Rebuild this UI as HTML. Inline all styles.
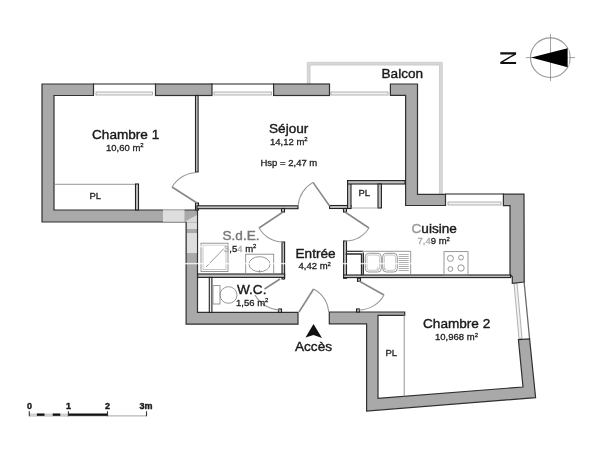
<!DOCTYPE html>
<html><head><meta charset="utf-8">
<style>
html,body{margin:0;padding:0;background:#fff;width:600px;height:450px;overflow:hidden}
svg{display:block;will-change:transform}
text{font-family:"Liberation Sans",sans-serif;fill:#1a1a1a;stroke:#1a1a1a;stroke-width:0.4}
.a{font-size:9.5px;fill:#222;stroke:#222;stroke-width:0.3}
.t{font-size:13.6px}
.w{fill:#a9a9a9;stroke:#303030;stroke-width:1.2;stroke-linejoin:miter}
.p{fill:#c0c0c0;stroke:#222;stroke-width:1.1}
.fr{fill:#f2f2f2;stroke:#a0a0a0;stroke-width:0.8}
.ol{stroke:#6a6a6a;stroke-width:1.3;fill:none}
.lf{stroke:#888;stroke-width:1.6;fill:none}
.arc{stroke:#999;stroke-width:1.1;fill:none}
.fx{stroke:#8c8c8c;stroke-width:0.9;fill:none}
.fx2{stroke:#b0b0b0;stroke-width:0.7;fill:none}
.bal{fill:none;stroke:#d8d8d8;stroke-width:2.6}
.ball{fill:none;stroke:#b8b8b8;stroke-width:0.6}
</style></head>
<body>
<svg width="600" height="450" viewBox="0 0 600 450">

<!-- balcony -->
<path class="bal" d="M308.7,84 V63.7 H440.9 V194"/>
<path class="ball" d="M307.3,84 V62.3 H442.3 V194"/>
<path class="ball" d="M310.1,84 V65.1 H439.5 V194"/>

<!-- window outer lines -->
<line class="ol" x1="93" y1="84" x2="156" y2="84"/>
<line class="ol" x1="211" y1="84" x2="274" y2="84"/>
<line class="ol" x1="445" y1="194" x2="504" y2="194"/>
<line class="ol" x1="524" y1="281" x2="529.6" y2="339"/>
<!-- window frames -->
<rect class="fr" x="96" y="92" width="56.5" height="3"/>
<rect class="fr" x="214" y="92" width="57.5" height="3"/>
<rect class="fr" x="331" y="92" width="57" height="3"/>
<rect class="fr" x="448" y="202" width="53" height="3"/>
<path class="fr" d="M517,283 L522,338.5 L519,338.8 L514,283.3 Z"/>

<!-- walls -->
<path class="w" d="M42,84 H93.5 V95.5 H54 V210 H197.5 V312.4 H298 V324.2 H186.1 V222 H42 Z"/>
<rect class="w" x="155.5" y="84" width="56.5" height="11.5"/>
<rect class="w" x="273.6" y="84" width="55.9" height="11.5"/>
<path class="w" d="M390.4,84 H417.5 V194.3 H445.5 V205.5 H405.6 V95.3 H390.4 Z"/>
<path class="w" d="M503.4,194.2 H524 L524.2,282 L512.3,283.3 V276.8 L510,274.4 V205.6 H503.4 Z"/>
<path class="w" d="M329.3,312 H404.7 V315.3 H378 V398.3 L523,387 L518.4,339.6 L529.6,339 L535.6,397.6 L366.6,411 L366.6,323.8 H329.3 Z"/>

<!-- partitions -->
<rect class="p" x="195.5" y="95.5" width="2.6" height="76.5"/>
<rect class="p" x="195.5" y="203" width="3" height="7"/>
<rect class="p" x="197" y="205.8" width="101" height="2.9"/>
<rect class="p" x="281.5" y="208.5" width="3" height="3.5"/>
<rect class="p" x="329.6" y="205.5" width="21.4" height="3"/>
<rect class="p" x="343.5" y="208.5" width="3" height="3.5"/>
<rect class="p" x="347.6" y="180.6" width="3.4" height="27.9"/>
<rect class="p" x="347.6" y="180.6" width="57.4" height="3.4"/>
<rect class="p" x="378" y="184" width="3.4" height="24"/>
<line x1="351" y1="208" x2="378" y2="208" stroke="#9a9a9a" stroke-width="0.8"/>
<rect class="p" x="282" y="242" width="2.6" height="37"/>
<rect class="p" x="197.7" y="274" width="86.9" height="3.4"/>
<rect class="p" x="209.3" y="277.4" width="2.6" height="35" style="fill:#f0f0f0"/>
<rect class="p" x="278.5" y="309" width="3" height="3.4"/>
<rect class="p" x="343.6" y="241" width="2.9" height="37.3"/>
<rect class="p" x="343.6" y="275" width="167" height="2.6"/>
<rect class="p" x="357.5" y="278.3" width="3" height="3"/>
<rect class="p" x="356.5" y="309" width="3" height="3"/>
<line x1="404.2" y1="315" x2="404.2" y2="396.5" stroke="#8a8a8a" stroke-width="0.9"/>
<!-- ch1 PL -->
<line x1="54" y1="184.3" x2="137" y2="184.3" stroke="#8a8a8a" stroke-width="0.9"/>
<rect class="p" x="135.5" y="184" width="3" height="26"/>

<!-- doors -->
<line class="lf" x1="197" y1="203" x2="172" y2="187"/>
<path class="arc" d="M172,187 A30,30 0 0 1 198,172.5"/>
<line class="lf" x1="329.6" y1="206" x2="313" y2="182.4"/>
<path class="arc" d="M313,182.4 A31,31 0 0 0 298,206"/>
<line class="lf" x1="283" y1="212" x2="259" y2="228"/>
<path class="arc" d="M259,228 A29.5,29.5 0 0 0 283,242"/>
<line class="lf" x1="345" y1="212" x2="369" y2="228"/>
<path class="arc" d="M369,228 A29,29 0 0 1 345,241"/>
<line class="lf" x1="280" y1="279" x2="264.5" y2="289"/>
<path class="arc" d="M255,295 A30,30 0 0 0 280,310"/>
<line class="lf" x1="359" y1="281" x2="384" y2="295"/>
<path class="arc" d="M384,295 A29,29 0 0 1 359,310"/>
<line class="lf" x1="299" y1="312" x2="313.6" y2="289"/>
<path class="arc" d="M313.6,289 A29.5,29.5 0 0 1 328.7,312"/>

<!-- fixtures -->
<rect class="fx" x="201" y="243.2" width="27" height="28.3"/>
<rect class="fx2" x="203" y="245.2" width="23" height="24.3"/>
<line class="fx" x1="206" y1="267" x2="224" y2="248.5"/>
<rect class="fx" x="245.7" y="254.2" width="28" height="19.3"/>
<ellipse class="fx" cx="259.5" cy="264.2" rx="10.5" ry="7.5"/>
<line class="fx" x1="259.5" y1="270" x2="259.5" y2="272.5"/>
<rect class="fx" x="213" y="285.6" width="7" height="18.4"/>
<ellipse class="fx" cx="228.5" cy="295" rx="8.5" ry="8.3"/>
<line x1="346" y1="251.3" x2="363" y2="251.3" stroke="#2a2a2a" stroke-width="1.2"/>
<path d="M345.5,254H361.5V275.3M363.3,252.5V275.3" fill="none" stroke="#2a2a2a" stroke-width="1.3"/>
<path class="fx" d="M362,251.3H410.7V275"/>
<rect class="fx" x="365.3" y="253.3" width="16" height="18.7" rx="3.5"/>
<rect class="fx2" x="367" y="255" width="12.6" height="15.3" rx="2.5"/>
<rect class="fx" x="382.7" y="253.3" width="14.6" height="18.7" rx="3.5"/>
<rect class="fx2" x="384.4" y="255" width="11.2" height="15.3" rx="2.5"/>
<path class="fx2" d="M378,267.5l1.2,1.2l-1.2,1.2l-1.2,-1.2zM384,267.5l1.2,1.2l-1.2,1.2l-1.2,-1.2z"/>
<path d="M398.7,254.5H408.7M398.7,256.5H408.7M398.7,258.5H408.7M398.7,260.5H408.7M398.7,262.5H408.7M398.7,264.5H408.7M398.7,266.5H408.7M398.7,268.5H408.7M398.7,270.5H408.7" stroke="#9a9a9a" stroke-width="0.8"/>
<rect class="fx" x="444" y="251.6" width="24" height="23.4"/>
<circle class="fx" cx="450.4" cy="258.4" r="3"/>
<circle class="fx" cx="461" cy="257.6" r="2.4"/>
<circle class="fx" cx="450.4" cy="269" r="2.4"/>
<circle class="fx" cx="461" cy="268" r="3.2"/>

<!-- watermark -->
<g fill="#fff">
<rect x="163" y="209.5" width="21.5" height="12.5" opacity="0.62"/>
<path d="M184,222 L197,215 V222 Z" opacity="0.55"/>
<rect x="187" y="222.6" width="10" height="6.4" opacity="0.62"/>
<rect x="187" y="233" width="10" height="20" opacity="0.62"/>
<rect x="150" y="262.9" width="262" height="1.4" opacity="0.8"/>
<rect x="200" y="245.5" width="40" height="2" opacity="0.6"/>
</g>

<!-- labels -->
<text class="t" x="92" y="139.2">Chambre 1</text>
<text class="a" x="106" y="150.8">10,60 m<tspan font-size="6" dy="-3.5">2</tspan></text>
<text class="t" x="269" y="132.7">Séjour</text>
<text class="a" x="270" y="144.7">14,12 m<tspan font-size="6" dy="-3.5">2</tspan></text>
<text class="a" x="260.5" y="166.3">Hsp = 2,47 m</text>
<text class="t" x="381.5" y="77.5">Balcon</text>
<text class="a" x="89.5" y="198.8" font-size="9.6">PL</text>
<text class="a" x="358.5" y="196.3" font-size="9.6">PL</text>
<text class="a" x="385.5" y="356.3" font-size="9.6">PL</text>
<text class="t" x="411.5" y="232.5"><tspan style="fill:#999;stroke:#999">C</tspan>uisine</text>
<text class="a" x="417.5" y="244"><tspan style="fill:#aaa;stroke:#aaa">7,4</tspan>9 m<tspan font-size="6" dy="-3.5">2</tspan></text>
<text class="t" x="222.5" y="239.5" style="fill:#777;stroke:#777">S.d.E.</text>
<text class="a" x="224" y="251.5"><tspan style="fill:#aaa;stroke:#aaa">3</tspan>,5<tspan style="fill:#aaa;stroke:#aaa">4</tspan> m<tspan font-size="6" dy="-3.5">2</tspan></text>
<text class="t" x="295.5" y="257.8">Entrée</text>
<text class="a" x="298.5" y="269.2">4,42 m<tspan font-size="6" dy="-3.5">2</tspan></text>
<text class="t" x="237" y="293.8">W.C.</text>
<text class="a" x="236" y="305.5">1,56 m<tspan font-size="6" dy="-3.5">2</tspan></text>
<text class="t" x="423" y="328.4">Chambre 2</text>
<text class="a" x="435" y="340.4">10,968 m<tspan font-size="6" dy="-3.5">2</tspan></text>
<text class="t" x="295" y="350.5">Accès</text>

<!-- access arrow -->
<path d="M313.5,324 L322,338 L313.5,335 L305.5,337.5 Z" fill="#111"/>

<!-- compass -->
<circle cx="550.3" cy="57.7" r="19.8" fill="none" stroke="#9a9a9a" stroke-width="1.1"/>
<line x1="550.5" y1="34" x2="550.5" y2="81" stroke="#8a8a8a" stroke-width="0.8"/>
<line x1="525.8" y1="57.6" x2="575" y2="57.6" stroke="#8a8a8a" stroke-width="0.8"/>
<path d="M531.2,57.5 L567.6,48.3 L567.6,67.2 Z" fill="#000"/>
<line x1="568.6" y1="49" x2="568.6" y2="66" stroke="#fff" stroke-width="0.8"/>
<path d="M500.3,52.2H516.1V54.4H500.3Z M500.3,61.9H516.1V64.1H500.3Z M513.2,54.4H516.1L503.2,61.9H500.3Z" fill="#111"/>

<!-- scale bar -->
<line x1="29.3" y1="415.9" x2="146.6" y2="415.9" stroke="#9c9c9c" stroke-width="0.9"/>
<rect x="29.3" y="413.5" width="39.1" height="2.3" fill="#d2d2d2"/>
<rect x="36.9" y="413.5" width="7.6" height="2.3" fill="#111"/>
<rect x="52.7" y="413.5" width="7.6" height="2.3" fill="#111"/>
<rect x="68.4" y="413.5" width="39" height="2.3" fill="#111"/>
<path d="M29.3,411.2V416.3M68.4,411.2V416.3M107.5,411.2V416.3M146.5,411.2V416.3" stroke="#333" stroke-width="1.1"/>
<g style="font-weight:bold">
<text x="26.9" y="409.2" style="font-size:9px">0</text>
<text x="66" y="409.2" style="font-size:9px">1</text>
<text x="105" y="409.2" style="font-size:9px">2</text>
<text x="139.5" y="409.2" style="font-size:9px">3m</text>
</g>
</svg>
</body></html>
